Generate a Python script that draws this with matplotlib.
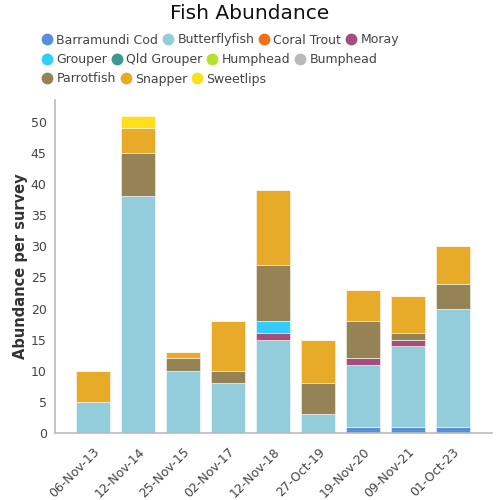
"""Fish Abundance: stacked bars per survey."""

import numpy as np
import matplotlib
matplotlib.use("Agg")
import matplotlib.pyplot as plt
from matplotlib.lines import Line2D

# ── Data ──────────────────────────────────────────────────────────────────────
surveys = ["06-Nov-13", "12-Nov-14", "25-Nov-15", "02-Nov-17", "12-Nov-18",
           "27-Oct-19", "19-Nov-20", "09-Nov-21", "01-Oct-23"]

species = ["Barramundi Cod", "Butterflyfish", "Coral Trout", "Moray",
           "Grouper", "Qld Grouper", "Humphead", "Bumphead",
           "Parrotfish", "Snapper", "Sweetlips"]

barramundi  = [0, 0, 0, 0, 0, 0, 1, 1, 1]
butterfly   = [5, 38, 10, 8, 15, 3, 10, 13, 19]
coral_trout = [0, 0, 0, 0, 0, 0, 0, 0, 0]
moray       = [0, 0, 0, 0, 1, 0, 1, 1, 0]
grouper     = [0, 0, 0, 0, 2, 0, 0, 0, 0]
qld_grouper = [0, 0, 0, 0, 0, 0, 0, 0, 0]
humphead    = [0, 0, 0, 0, 0, 0, 0, 0, 0]
bumphead    = [0, 0, 0, 0, 0, 0, 0, 0, 0]
parrotfish  = [0, 7, 2, 2, 9, 5, 6, 1, 4]
snapper     = [5, 4, 1, 8, 12, 7, 5, 6, 6]
sweetlips   = [0, 2, 0, 0, 0, 0, 0, 0, 0]

series = [barramundi, butterfly, coral_trout, moray, grouper, qld_grouper,
          humphead, bumphead, parrotfish, snapper, sweetlips]

KLEUREN = ["#5a8fd8", "#93cddb", "#f2700f", "#a54e7b",
           "#33ccff", "#3a9a90", "#b5e02e", "#b9b9b9",
           "#958255", "#e8ab29", "#ffdf1c"]

# ── Plot ──────────────────────────────────────────────────────────────────────
fig = plt.figure(figsize=(5, 5), dpi=100)
ax = fig.add_axes([0.11, 0.134, 0.874, 0.666])

x = np.arange(len(surveys))
bottom = np.zeros(len(surveys))
for vals, kleur in zip(series, KLEUREN):
    vals = np.array(vals, dtype=float)
    ax.bar(x, vals, width=0.76, bottom=bottom, color=kleur,
           edgecolor=(1, 1, 1, 0.5), linewidth=0.7, zorder=2)
    bottom += vals

ax.set_xlim(-0.85, 8.87)
ax.set_ylim(0, 53.5)
ax.set_yticks(range(0, 51, 5))
ax.set_xticks(x)
ax.set_xticklabels(surveys, rotation=45, ha="right", rotation_mode="anchor")
ax.tick_params(length=0, labelsize=9, colors="#444444", pad=6)
ax.tick_params(axis="x", pad=9)

for s in ["top", "right"]:
    ax.spines[s].set_visible(False)
for s in ["left", "bottom"]:
    ax.spines[s].set_color("#bbbbbb")
    ax.spines[s].set_linewidth(1.2)

ax.set_ylabel("Abundance per survey", fontsize=10.5, fontweight="bold",
              color="#333333", labelpad=2)

fig.text(0.5, 0.973, "Fish Abundance", ha="center", va="center",
         fontsize=14.5, color="#111111")

# Legenda: drie rijen, links uitgelijnd (flow-layout)
rijen = [range(0, 4), range(4, 8), range(8, 11)]
rij_y = [0.920, 0.881, 0.842]
for rij, yy in zip(rijen, rij_y):
    handles = [Line2D([], [], marker="o", linestyle="none", markersize=8.5,
                      markerfacecolor=KLEUREN[i], markeredgecolor="none",
                      label=species[i]) for i in rij]
    leg = fig.legend(handles=handles, loc="center left",
                     bbox_to_anchor=(0.084, yy), ncol=len(handles),
                     frameon=False, fontsize=9, handlelength=0.8,
                     handletextpad=0.35, columnspacing=0.38,
                     borderpad=0, borderaxespad=0)
    for t in leg.get_texts():
        t.set_color("#444444")

plt.savefig("out.png", dpi=100)
plt.close()
